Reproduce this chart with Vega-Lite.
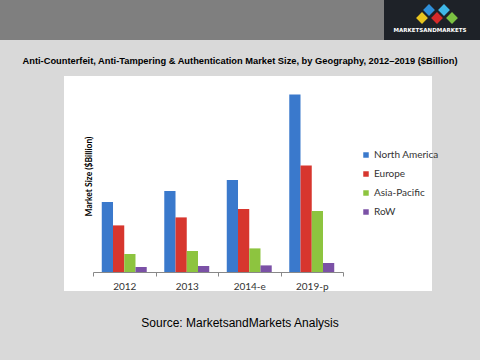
{
  "$schema": "https://vega.github.io/schema/vega-lite/v6.json",
  "width": 250,
  "height": 185,
  "autosize": {"type": "none"},
  "padding": {"left": 93, "top": 87, "right": 137, "bottom": 88},
  "background": "#d9d9d9",
  "config": {"view": {"stroke": null}},
  "layer": [
    {
      "data": {"values": [{"part": "banner"}]},
      "mark": {"type": "rect", "color": "#7f7f7f"},
      "encoding": {"x": {"value": -93}, "x2": {"value": 387}, "y": {"value": -87}, "y2": {"value": -47}}
    },
    {
      "data": {"values": [{"part": "logo"}]},
      "mark": {"type": "rect", "color": "#1e2228"},
      "encoding": {"x": {"value": 291}, "x2": {"value": 387}, "y": {"value": -87}, "y2": {"value": -47}}
    },
    {
      "data": {"values": [
        {"dx": 329, "dy": -69, "c": "#e8c51f"},
        {"dx": 336, "dy": -77, "c": "#2f8fd9"},
        {"dx": 344, "dy": -69, "c": "#d62a2a"},
        {"dx": 351, "dy": -77, "c": "#3fb8e8"},
        {"dx": 359, "dy": -69, "c": "#7cc142"}
      ]},
      "mark": {"type": "point", "shape": "diamond", "filled": true, "size": 140, "opacity": 1},
      "encoding": {
        "x": {"field": "dx", "type": "quantitative", "scale": null},
        "y": {"field": "dy", "type": "quantitative", "scale": null},
        "color": {"field": "c", "type": "nominal", "scale": null}
      }
    },
    {
      "data": {"values": [{"t": "MARKETSANDMARKETS"}]},
      "mark": {"type": "text", "font": "DejaVu Sans", "fontWeight": "bold", "fontSize": 5.5, "color": "#ffffff", "align": "center", "baseline": "middle"},
      "encoding": {"text": {"field": "t"}, "x": {"value": 337}, "y": {"value": -57}}
    },
    {
      "data": {"values": [{"t": "Anti-Counterfeit, Anti-Tampering & Authentication Market Size, by Geography, 2012–2019 ($Billion)"}]},
      "mark": {"type": "text", "font": "Liberation Sans", "fontWeight": "bold", "fontSize": 9.3, "color": "#000000", "align": "center", "baseline": "middle"},
      "encoding": {"text": {"field": "t"}, "x": {"value": 147}, "y": {"value": -26}}
    },
    {
      "data": {"values": [{"part": "box"}]},
      "mark": {"type": "rect", "color": "#ffffff"},
      "encoding": {"x": {"value": -29}, "x2": {"value": 339}, "y": {"value": -11}, "y2": {"value": 204}}
    },
    {
      "data": {"values": [{"t": "Source: MarketsandMarkets Analysis"}]},
      "mark": {"type": "text", "font": "Liberation Sans", "fontSize": 12, "color": "#000000", "align": "center", "baseline": "middle"},
      "encoding": {"text": {"field": "t"}, "x": {"value": 147}, "y": {"value": 236}}
    },
    {
      "data": {"values": [
        {"year": "2012", "region": "North America", "value": 3.5},
        {"year": "2012", "region": "Europe", "value": 2.33},
        {"year": "2012", "region": "Asia-Pacific", "value": 0.9},
        {"year": "2012", "region": "RoW", "value": 0.25},
        {"year": "2013", "region": "North America", "value": 4.05},
        {"year": "2013", "region": "Europe", "value": 2.73},
        {"year": "2013", "region": "Asia-Pacific", "value": 1.05},
        {"year": "2013", "region": "RoW", "value": 0.3},
        {"year": "2014-e", "region": "North America", "value": 4.6},
        {"year": "2014-e", "region": "Europe", "value": 3.15},
        {"year": "2014-e", "region": "Asia-Pacific", "value": 1.18},
        {"year": "2014-e", "region": "RoW", "value": 0.33},
        {"year": "2019-p", "region": "North America", "value": 8.88},
        {"year": "2019-p", "region": "Europe", "value": 5.33},
        {"year": "2019-p", "region": "Asia-Pacific", "value": 3.05},
        {"year": "2019-p", "region": "RoW", "value": 0.45}
      ]},
      "mark": {"type": "bar"},
      "encoding": {
        "x": {
          "field": "year", "type": "nominal", "sort": null,
          "scale": {"paddingInner": 0, "paddingOuter": 0},
          "axis": {
            "zindex": 1,
            "title": null, "labelAngle": 0, "labelFont": "Lato", "labelFontSize": 10, "labelColor": "#333333",
            "labelPadding": 5, "tickBand": "extent", "tickSize": 4, "tickColor": "#888888", "domainColor": "#888888",
            "domainWidth": 1, "tickWidth": 1
          }
        },
        "xOffset": {"field": "region", "type": "nominal", "sort": ["North America", "Europe", "Asia-Pacific", "RoW"], "scale": {"paddingInner": 0, "paddingOuter": 0.78}},
        "y": {
          "field": "value", "type": "quantitative",
          "scale": {"domain": [0, 9.25]},
          "axis": {
            "zindex": 1,
            "title": "Market Size ($Billion)", "titleFont": "Lato", "titleFontWeight": "bold", "titleFontSize": 8.5, "titleColor": "#000000",
            "labels": false, "ticks": false, "domain": false, "grid": false,
            "titleX": -5, "titleY": 89, "titleAngle": -90, "titleBaseline": "middle", "titleAlign": "center"
          }
        },
        "color": {
          "field": "region", "type": "nominal",
          "sort": ["North America", "Europe", "Asia-Pacific", "RoW"],
          "scale": {"domain": ["North America", "Europe", "Asia-Pacific", "RoW"], "range": ["#3a79cc", "#d7362e", "#8dc43f", "#7b51a6"]},
          "legend": {
            "title": null, "orient": "none", "legendX": 268, "legendY": 63,
            "symbolType": "square", "symbolSize": 30, "symbolStrokeWidth": 0,
            "labelFont": "Lato", "labelFontSize": 10, "labelColor": "#333333", "labelOffset": 3,
            "rowPadding": 9
          }
        }
      }
    }
  ]
}
